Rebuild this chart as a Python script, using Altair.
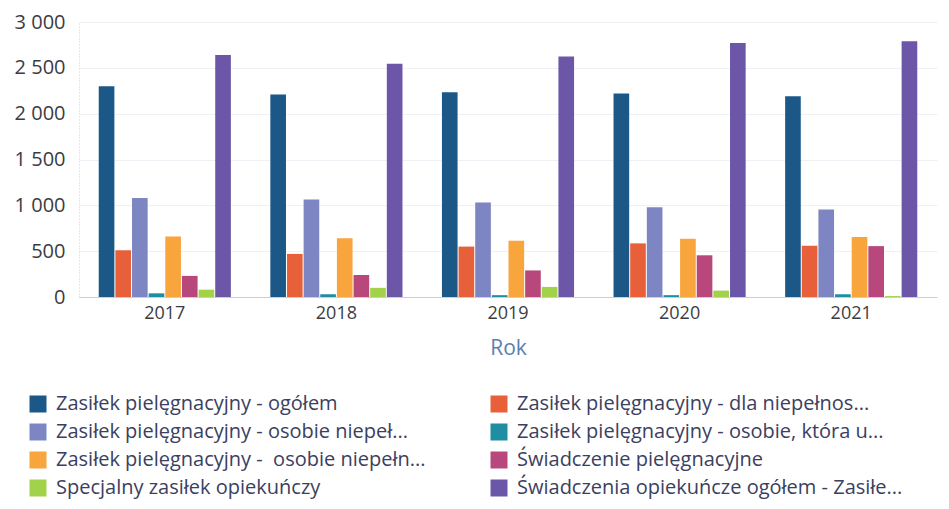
import altair as alt
import pandas as pd

years = ["2017", "2018", "2019", "2020", "2021"]

series = [
    "Zasiłek pielęgnacyjny - ogółem",
    "Zasiłek pielęgnacyjny - dla niepełnos...",
    "Zasiłek pielęgnacyjny - osobie niepeł...",
    "Zasiłek pielęgnacyjny - osobie, która u...",
    "Zasiłek pielęgnacyjny -\u00a0 osobie niepełn...",
    "Świadczenie pielęgnacyjne",
    "Specjalny zasiłek opiekuńczy",
    "Świadczenia opiekuńcze ogółem - Zasiłe...",
]

colors = [
    "#1b5888",
    "#e8603a",
    "#7d86c2",
    "#1f8ea3",
    "#f7a53c",
    "#b8487c",
    "#a2d24a",
    "#6b56a8",
]

zasilek_ogolem = [2300, 2210, 2235, 2220, 2190]
dla_niepelnos = [510, 470, 550, 585, 560]
osobie_niepel = [1080, 1065, 1030, 980, 955]
osobie_ktora = [40, 30, 20, 20, 30]
osobie_niepeln = [660, 640, 615, 635, 655]
swiadczenie_piel = [230, 240, 290, 455, 555]
specjalny = [80, 100, 110, 70, 10]
swiadczenia_ogolem = [2640, 2545, 2625, 2770, 2790]

values = [
    zasilek_ogolem,
    dla_niepelnos,
    osobie_niepel,
    osobie_ktora,
    osobie_niepeln,
    swiadczenie_piel,
    specjalny,
    swiadczenia_ogolem,
]

y_ticks = [0, 500, 1000, 1500, 2000, 2500, 3000]

rows = []
for s, vals in zip(series, values):
    for yr, v in zip(years, vals):
        rows.append({"Rok": yr, "Seria": s, "Wartość": v})
df = pd.DataFrame(rows)

FONT = "Open Sans"

chart = (
    alt.Chart(df)
    .mark_bar()
    .encode(
        x=alt.X(
            "Rok:N",
            sort=years,
            scale=alt.Scale(paddingInner=0.23, paddingOuter=0.115),
            axis=alt.Axis(
                title="Rok",
                labelAngle=0,
                labelFontSize=18,
                labelColor="#3c3c44",
                labelPadding=7,
                titleFontSize=21,
                titleFontWeight="normal",
                titleColor="#5b7fae",
                titlePadding=15,
                ticks=False,
                domainColor="#c9cde0",
                grid=False,
            ),
        ),
        xOffset=alt.XOffset(
            "Seria:N", sort=series, scale=alt.Scale(paddingInner=0.06)
        ),
        y=alt.Y(
            "Wartość:Q",
            scale=alt.Scale(domain=[0, 3000], nice=False),
            axis=alt.Axis(
                title=None,
                values=y_ticks,
                format=",d",
                labelExpr="replace(datum.label, ',', ' ')",
                labelFontSize=20,
                labelColor="#3c3c44",
                labelPadding=14,
                ticks=False,
                domainColor="#c9cde0",
                domainDash=[1, 2],
                gridColor="#eef0f6",
            ),
        ),
        color=alt.Color(
            "Seria:N",
            sort=series,
            scale=alt.Scale(domain=series, range=colors),
            legend=alt.Legend(
                title=None,
                orient="none",
                direction="horizontal",
                legendX=-51,
                legendY=372,
                columns=2,
                columnPadding=63,
                rowPadding=8,
                symbolType="square",
                symbolSize=289,
                symbolStrokeWidth=0,
                labelFontSize=20,
                labelColor="#3b4060",
                labelOffset=8,
                labelLimit=600,
            ),
        ),
    )
    .properties(
        width=858,
        height=275,
        autosize=alt.AutoSizeParams(type="none"),
        padding={"left": 71, "top": 14, "right": 4, "bottom": 204},
    )
    .configure(font=FONT)
    .configure_view(stroke=None)
)

chart.save("out.html", embed_options={"renderer": "svg", "actions": False})
